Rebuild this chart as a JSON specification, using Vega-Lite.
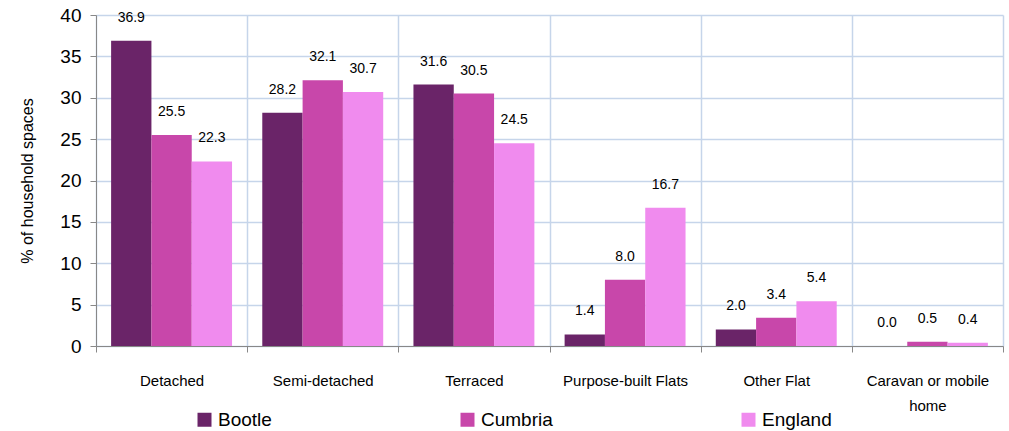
{
  "$schema": "https://vega.github.io/schema/vega-lite/v6.json",
  "autosize": {"type": "none"},
  "width": 907,
  "height": 331,
  "padding": {"left": 96, "top": 15, "right": 6, "bottom": 85},
  "background": "white",
  "config": {
    "font": "Liberation Sans",
    "view": {"stroke": null},
    "axis": {"labelFont": "Liberation Sans", "titleFont": "Liberation Sans", "labelColor": "#000", "titleColor": "#000"}
  },
  "data": {
    "values": [
      {"type": "Detached", "area": "Bootle", "pct": 36.9},
      {"type": "Detached", "area": "Cumbria", "pct": 25.5},
      {"type": "Detached", "area": "England", "pct": 22.3},
      {"type": "Semi-detached", "area": "Bootle", "pct": 28.2},
      {"type": "Semi-detached", "area": "Cumbria", "pct": 32.1},
      {"type": "Semi-detached", "area": "England", "pct": 30.7},
      {"type": "Terraced", "area": "Bootle", "pct": 31.6},
      {"type": "Terraced", "area": "Cumbria", "pct": 30.5},
      {"type": "Terraced", "area": "England", "pct": 24.5},
      {"type": "Purpose-built Flats", "area": "Bootle", "pct": 1.4},
      {"type": "Purpose-built Flats", "area": "Cumbria", "pct": 8.0},
      {"type": "Purpose-built Flats", "area": "England", "pct": 16.7},
      {"type": "Other Flat", "area": "Bootle", "pct": 2.0},
      {"type": "Other Flat", "area": "Cumbria", "pct": 3.4},
      {"type": "Other Flat", "area": "England", "pct": 5.4},
      {"type": "Caravan or mobile home", "area": "Bootle", "pct": 0.0},
      {"type": "Caravan or mobile home", "area": "Cumbria", "pct": 0.5},
      {"type": "Caravan or mobile home", "area": "England", "pct": 0.4}
    ]
  },
  "encoding": {
    "x": {
      "field": "type", "type": "nominal", "sort": null,
      "scale": {"paddingInner": 0, "paddingOuter": 0},
      "axis": {
        "title": null, "labelAngle": 0, "labelFontSize": 15, "labelPadding": 21,
        "tickBand": "extent", "grid": true, "gridColor": "#c6d5ea", "gridWidth": 1.5,
        "domainColor": "#888", "tickColor": "#888", "tickSize": 6,
        "labelLineHeight": 25,
        "labelExpr": "datum.value == 'Caravan or mobile home' ? ['Caravan or mobile', 'home'] : datum.value"
      }
    },
    "xOffset": {"field": "area", "type": "nominal", "scale": {"paddingInner": 0, "paddingOuter": 0.375}},
    "y": {
      "field": "pct", "type": "quantitative",
      "scale": {"domain": [0, 40], "nice": false},
      "axis": {
        "title": "% of household spaces", "titleFontSize": 16, "titleFontWeight": "normal", "titlePadding": 24,
        "labelFontSize": 19, "labelPadding": 9, "values": [0, 5, 10, 15, 20, 25, 30, 35, 40],
        "grid": true, "gridColor": "#c6d5ea", "gridWidth": 1.5,
        "domainColor": "#888", "tickColor": "#888", "tickSize": 6
      }
    }
  },
  "layer": [
    {
      "mark": {"type": "bar"},
      "encoding": {
        "color": {
          "field": "area", "type": "nominal",
          "scale": {"domain": ["Bootle", "Cumbria", "England"], "range": ["#6a2468", "#c847aa", "#f08bee"]},
          "legend": {
            "title": null, "orient": "none", "direction": "horizontal", "columns": 3,
            "legendX": 99, "legendY": 395, "columnPadding": 186,
            "symbolType": "square", "symbolSize": 196, "symbolStrokeWidth": 0, "symbolOpacity": 1,
            "labelFontSize": 19, "labelColor": "#000", "labelOffset": 4, "labelFont": "Liberation Sans"
          }
        }
      }
    },
    {
      "mark": {"type": "text", "baseline": "middle", "dy": -23, "fontSize": 14, "color": "#000"},
      "encoding": {
        "text": {"field": "pct", "type": "quantitative", "format": ".1f"}
      }
    }
  ]
}
